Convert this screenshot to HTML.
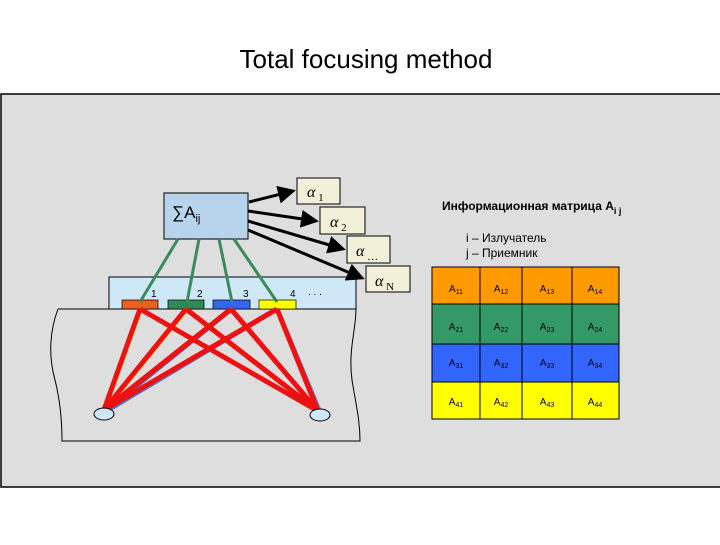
<!DOCTYPE html>
<html><head><meta charset="utf-8"><style>
body{margin:0;width:720px;height:540px;background:#fff;overflow:hidden;font-family:"Liberation Sans","Noto Sans CJK SC",sans-serif}
</style></head><body>
<svg width="720" height="540" xmlns="http://www.w3.org/2000/svg" font-family="Liberation Sans, DejaVu Sans, sans-serif">
<text x="366" y="68" font-size="26" text-anchor="middle">Total focusing method</text>
<rect x="1" y="94" width="721" height="393" fill="#dedede" stroke="#000" stroke-width="1.5"/>
<!-- specimen -->
<path d="M58,309 L356,309 C356,330 348,350 352,380 C356,405 360,420 360,441 L62,441 C62,420 60,400 55,380 C48,355 50,330 58,309 Z" fill="#dedede" stroke="#000" stroke-width="1"/>
<!-- array -->
<rect x="109" y="277" width="247" height="32" fill="#cfe8f8" stroke="#000" stroke-width="1"/>
<rect x="122" y="300" width="36" height="9" fill="#e8601c" stroke="#000" stroke-width=".7"/>
<rect x="168" y="300" width="36" height="9" fill="#2e8b57" stroke="#000" stroke-width=".7"/>
<rect x="213" y="300" width="37" height="9" fill="#3366ee" stroke="#000" stroke-width=".7"/>
<rect x="259" y="300" width="37" height="9" fill="#ffff00" stroke="#000" stroke-width=".7"/>
<g font-size="10"><text x="151" y="297">1</text><text x="197" y="297">2</text><text x="243" y="297">3</text><text x="290" y="297">4</text><text x="308" y="295">. . .</text></g>
<!-- sum box -->
<rect x="164" y="193" width="84" height="46" fill="#b8d4ec" stroke="#000" stroke-width="1"/>
<text x="172" y="218" font-size="17">∑A<tspan font-size="11" dy="4">ij</tspan></text>
<g stroke="#3a8a5a" stroke-width="3">
<line x1="178" y1="239" x2="140" y2="302"/><line x1="199" y1="239" x2="187" y2="302"/>
<line x1="219" y1="239" x2="232" y2="302"/><line x1="234" y1="239" x2="277" y2="302"/></g>
<!-- ray lines underlays -->
<g stroke-width="3">
<line x1="142" y1="309" x2="106" y2="408" stroke="#ffff66"/><line x1="188" y1="309" x2="106" y2="410" stroke="#ffff66"/>
<line x1="233" y1="309" x2="108" y2="410" stroke="#4477cc"/><line x1="279" y1="309" x2="108" y2="411" stroke="#4477cc"/>
<line x1="142" y1="309" x2="316" y2="410" stroke="#ffee88"/><line x1="278" y1="309" x2="320" y2="410" stroke="#6688cc"/>
</g>
<g stroke="#ee1111" stroke-width="5">
<line x1="140" y1="309" x2="104" y2="410"/><line x1="186" y1="309" x2="104" y2="410"/>
<line x1="231" y1="309" x2="104" y2="410"/><line x1="277" y1="309" x2="104" y2="410"/>
<line x1="140" y1="309" x2="318" y2="411"/><line x1="186" y1="309" x2="318" y2="411"/>
<line x1="231" y1="309" x2="318" y2="411"/><line x1="277" y1="309" x2="318" y2="411"/></g>
<ellipse cx="104" cy="414" rx="10" ry="6" fill="#cfe8f8" stroke="#000" stroke-width="1"/>
<ellipse cx="320" cy="415" rx="10" ry="6" fill="#cfe8f8" stroke="#000" stroke-width="1"/>
<!-- arrows -->
<defs><marker id="a" markerWidth="6" markerHeight="6" refX="5" refY="3" orient="auto"><path d="M0,0 L6,3 L0,6 Z" fill="#000"/></marker></defs>
<g stroke="#000" stroke-width="3" marker-end="url(#a)">
<line x1="249" y1="202" x2="293" y2="191"/><line x1="248" y1="211" x2="316" y2="221"/>
<line x1="248" y1="221" x2="343" y2="249"/><line x1="248" y1="230" x2="362" y2="278"/></g>
<g fill="#f2f0d8" stroke="#000" stroke-width="1">
<rect x="297" y="178" width="43" height="26"/><rect x="320" y="207" width="45" height="27"/>
<rect x="347" y="236" width="43" height="27"/><rect x="366" y="266" width="44" height="26"/></g>
<g font-size="16" font-style="italic" font-family="Liberation Serif, serif">
<text x="307" y="197">α<tspan font-size="11" font-style="normal" dy="4"> 1</tspan></text>
<text x="330" y="227">α<tspan font-size="11" font-style="normal" dy="4"> 2</tspan></text>
<text x="356" y="256">α<tspan font-size="11" font-style="normal" dy="4"> …</tspan></text>
<text x="375" y="286">α<tspan font-size="11" font-style="normal" dy="4"> N</tspan></text></g>
<!-- right -->
<text x="442" y="210" font-size="12" font-weight="bold">Информационная матрица A<tspan font-size="9" dy="4">i j</tspan></text>
<text x="466" y="242" font-size="12">i – Излучатель</text>
<text x="466" y="257" font-size="12">j – Приемник</text>
<g stroke="#000" stroke-width="1">
<rect x="432" y="267" width="187" height="37" fill="#ff9900"/>
<rect x="432" y="304" width="187" height="40" fill="#339966"/>
<rect x="432" y="344" width="187" height="38" fill="#3366ff"/>
<rect x="432" y="382" width="187" height="37" fill="#ffff00"/>
<line x1="480" y1="267" x2="480" y2="419"/><line x1="522" y1="267" x2="522" y2="419"/><line x1="572" y1="267" x2="572" y2="419"/></g>
<g font-size="10" text-anchor="middle">
<text x="456" y="292">A<tspan font-size="7" dy="2">11</tspan></text><text x="501" y="292">A<tspan font-size="7" dy="2">12</tspan></text><text x="547" y="292">A<tspan font-size="7" dy="2">13</tspan></text><text x="595" y="292">A<tspan font-size="7" dy="2">14</tspan></text>
<text x="456" y="330">A<tspan font-size="7" dy="2">21</tspan></text><text x="501" y="330">A<tspan font-size="7" dy="2">22</tspan></text><text x="547" y="330">A<tspan font-size="7" dy="2">23</tspan></text><text x="595" y="330">A<tspan font-size="7" dy="2">24</tspan></text>
<text x="456" y="366">A<tspan font-size="7" dy="2">31</tspan></text><text x="501" y="366">A<tspan font-size="7" dy="2">32</tspan></text><text x="547" y="366">A<tspan font-size="7" dy="2">33</tspan></text><text x="595" y="366">A<tspan font-size="7" dy="2">34</tspan></text>
<text x="456" y="405">A<tspan font-size="7" dy="2">41</tspan></text><text x="501" y="405">A<tspan font-size="7" dy="2">42</tspan></text><text x="547" y="405">A<tspan font-size="7" dy="2">43</tspan></text><text x="595" y="405">A<tspan font-size="7" dy="2">44</tspan></text>
</g>
</svg>
</body></html>
